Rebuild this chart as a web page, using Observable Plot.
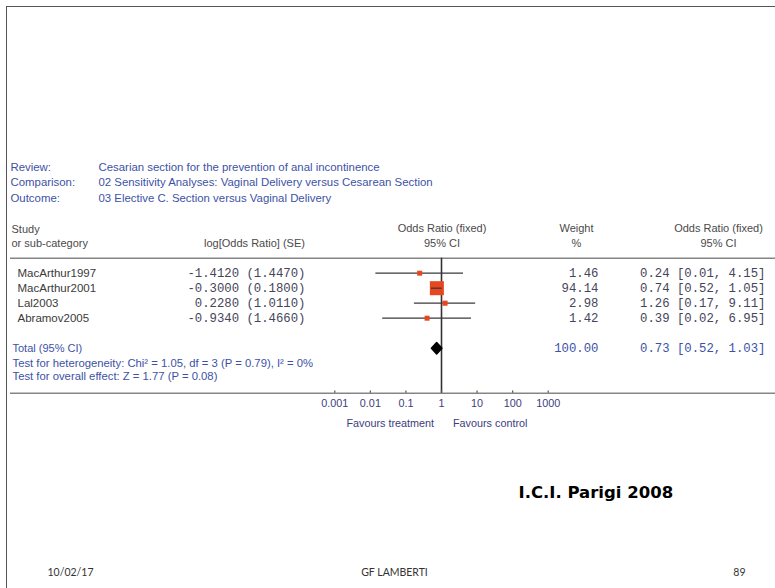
<!DOCTYPE html>
<html><head><meta charset="utf-8">
<script src="https://cdn.jsdelivr.net/npm/d3@7"></script>
<script src="https://cdn.jsdelivr.net/npm/@observablehq/plot@0.6"></script>
<style>
html,body{margin:0;padding:0;background:#fff;}
#chart{position:relative;width:775px;height:588px;overflow:hidden;}
#chart svg{position:absolute;left:0;top:0;}
#slide{position:absolute;left:6px;top:6px;width:1000px;height:1000px;border-left:1.5px solid #555;border-top:1.5px solid #555;}
</style></head><body><div id="chart"><div id="slide"></div></div>
<script>
// ---- data ----
const studies = ["MacArthur1997","MacArthur2001","Lal2003","Abramov2005"];
const logOR = [-1.4120,-0.3000,0.2280,-0.9340];
const se = [1.4470,0.1800,1.0110,1.4660];
const weights = [1.46,94.14,2.98,1.42];
const orLabels = ["0.24 [0.01, 4.15]","0.74 [0.52, 1.05]","1.26 [0.17, 9.11]","0.39 [0.02, 6.95]"];
const totalOR = [0.73, 0.52, 1.03]; // estimate, lower, upper
const totalWeightLabel = "100.00";
const totalORLabel = "0.73 [0.52, 1.03]";
const xTicks = [0.001,0.01,0.1,1,10,100,1000];
const reviewLabels = ["Review:","Comparison:","Outcome:"];
const reviewValues = ["Cesarian section for the prevention of anal incontinence",
  "02 Sensitivity Analyses: Vaginal Delivery versus Cesarean Section",
  "03 Elective C. Section versus Vaginal Delivery"];
const heterogeneity = "Test for heterogeneity: Chi² = 1.05, df = 3 (P = 0.79), I² = 0%";
const overall = "Test for overall effect: Z = 1.77 (P = 0.08)";
const footer = ["10/02/17","GF LAMBERTI","89"];
const stamp = "I.C.I. Parigi 2008";

// ---- derived ----
const rows = studies.map((s,i)=>({
  name:s, i,
  or:Math.exp(logOR[i]),
  lo:Math.exp(logOR[i]-1.96*se[i]),
  hi:Math.exp(logOR[i]+1.96*se[i]),
  w:weights[i],
  logLabel:`${logOR[i].toFixed(4)} (${se[i].toFixed(4)})`,
  wLabel:weights[i].toFixed(2),
  orLabel:orLabels[i]
}));
const TOTAL = 5, HEADER = -1, AXIS = 8;
const diamond = [
  {x:totalOR[1], y:TOTAL},{x:totalOR[0], y:TOTAL-0.38},
  {x:totalOR[2], y:TOTAL},{x:totalOR[0], y:TOTAL+0.38},{x:totalOR[1], y:TOTAL}];

const BLUE = "#3d52a6", GREY = "#4a4a4a", NUM = "#45455a", SANS = "Liberation Sans, Arial, sans-serif", MONO = "Liberation Mono, Courier New, monospace";
const T = (str, x, y, o={}) => Plot.text([str], {text:d=>d, frameAnchor:"top-left", dx:x, dy:y,
  lineAnchor:"middle", textAnchor:"start", fontSize:11, fontFamily:SANS, fill:GREY, ...o});
const rowText = (data, text, x, o={}) => Plot.text(data, {y:"i", text, frameAnchor:"left", dx:x,
  lineAnchor:"middle", fontFamily:MONO, fontSize:12.3, fill:NUM, textAnchor:"end", ...o});

const plot = Plot.plot({
  width:775, height:588, margin:0,
  x:{type:"log", domain:[0.001,1000], range:[334.3,547.7], axis:null},
  y:{type:"linear", domain:[0,5], range:[272.7,347.7], axis:null},
  r:{type:"linear", domain:[1.4,94.14], range:[2.8,7.9]},
  style:{background:"transparent"},
  marks:[
    // top descriptors
    ...reviewLabels.map((t,k)=>T(t, 10, 167+15.3*k, {fill:BLUE, fontSize:11.4})),
    ...reviewValues.map((t,k)=>T(t, 98, 167+15.3*k, {fill:BLUE, fontSize:11.4})),
    // headers
    T("Study", 11, 228.5),
    T("or sub-category", 11, 243),
    T("log[Odds Ratio] (SE)", 254, 243, {textAnchor:"middle"}),
    T("Odds Ratio (fixed)", 441.5, 227.5, {textAnchor:"middle"}),
    T("95% CI", 441.5, 242.5, {textAnchor:"middle"}),
    T("Weight", 576, 227.5, {textAnchor:"middle"}),
    T("%", 576, 242.5, {textAnchor:"middle"}),
    T("Odds Ratio (fixed)", 718, 227.5, {textAnchor:"middle"}),
    T("95% CI", 718, 242.5, {textAnchor:"middle"}),
    // table rules
    Plot.ruleY([HEADER, AXIS], {y:d=>d, stroke:"#858585", strokeWidth:1.6, insetLeft:10}),
    Plot.ruleX([1], {x:d=>d, y1:HEADER, y2:AXIS, stroke:"#333", strokeWidth:1.6}),
    // axis ticks and labels
    Plot.ruleX(xTicks, {x:d=>d, y1:AXIS-0.15, y2:AXIS, stroke:"#555", strokeWidth:1.2}),
    Plot.text(xTicks, {x:d=>d, y:AXIS, dy:10.5, text:d=>String(d), fontSize:10.8, fontFamily:SANS, fill:"#3c3c80"}),
    Plot.text(["Favours treatment"], {x:1, y:AXIS+2, dx:-7.5, text:d=>d, textAnchor:"end", fontSize:10.8, fontFamily:SANS, fill:"#3c3c80"}),
    Plot.text(["Favours control"], {x:1, y:AXIS+2, dx:11.5, text:d=>d, textAnchor:"start", fontSize:10.8, fontFamily:SANS, fill:"#3c3c80"}),
    // forest
    Plot.ruleY(rows, {y:"i", x1:"lo", x2:"hi", stroke:"#3a3a3a", strokeWidth:1.3}),
    Plot.dot(rows, {x:"or", y:"i", r:"w", symbol:"square", fill:"#e8461e", stroke:"none"}),
    Plot.ruleY(rows.filter(d=>d.w>10), {y:"i", x1:"lo", x2:"hi", stroke:"#3a3a3a", strokeWidth:1.3}),
    Plot.line(diamond, {x:"x", y:"y", fill:"#000", stroke:"#000", strokeWidth:1.5, strokeLinejoin:"round"}),
    // row texts
    rowText(rows, "name", 17, {fontFamily:SANS, fontSize:11.5, textAnchor:"start", fill:"#3a3a3a"}),
    rowText(rows, "logLabel", 305),
    rowText(rows, "wLabel", 598),
    rowText(rows, "orLabel", 765),
    // totals
    Plot.text(["Total (95% CI)"], {y:TOTAL, text:d=>d, frameAnchor:"left", dx:12, textAnchor:"start", fontSize:11, fontFamily:SANS, fill:BLUE}),
    Plot.text([totalWeightLabel], {y:TOTAL, text:d=>d, frameAnchor:"left", dx:598, textAnchor:"end", fontSize:12.3, fontFamily:MONO, fill:BLUE}),
    Plot.text([totalORLabel], {y:TOTAL, text:d=>d, frameAnchor:"left", dx:765, textAnchor:"end", fontSize:12.3, fontFamily:MONO, fill:BLUE}),
    Plot.text([heterogeneity], {y:TOTAL+1.04, text:d=>d, frameAnchor:"left", dx:12, textAnchor:"start", fontSize:11.3, fontFamily:SANS, fill:BLUE}),
    Plot.text([overall], {y:TOTAL+1.87, text:d=>d, frameAnchor:"left", dx:12, textAnchor:"start", fontSize:11.3, fontFamily:SANS, fill:BLUE}),
    // stamp and footer
    T(stamp, 518, 492, {fontFamily:"DejaVu Sans, sans-serif", fontWeight:"bold", fontSize:16.5, fill:"#000"}),
    T(footer[0], 47, 572, {fontFamily:"Lato, sans-serif", fontSize:10.5, fill:"#333"}),
    T(footer[1], 394, 572, {fontFamily:"Lato, sans-serif", fontSize:10.5, fill:"#333", textAnchor:"middle"}),
    T(footer[2], 745, 572, {fontFamily:"Lato, sans-serif", fontSize:10.5, fill:"#333", textAnchor:"end"})
  ]
});
document.getElementById("chart").appendChild(plot);
</script>
</body></html>
